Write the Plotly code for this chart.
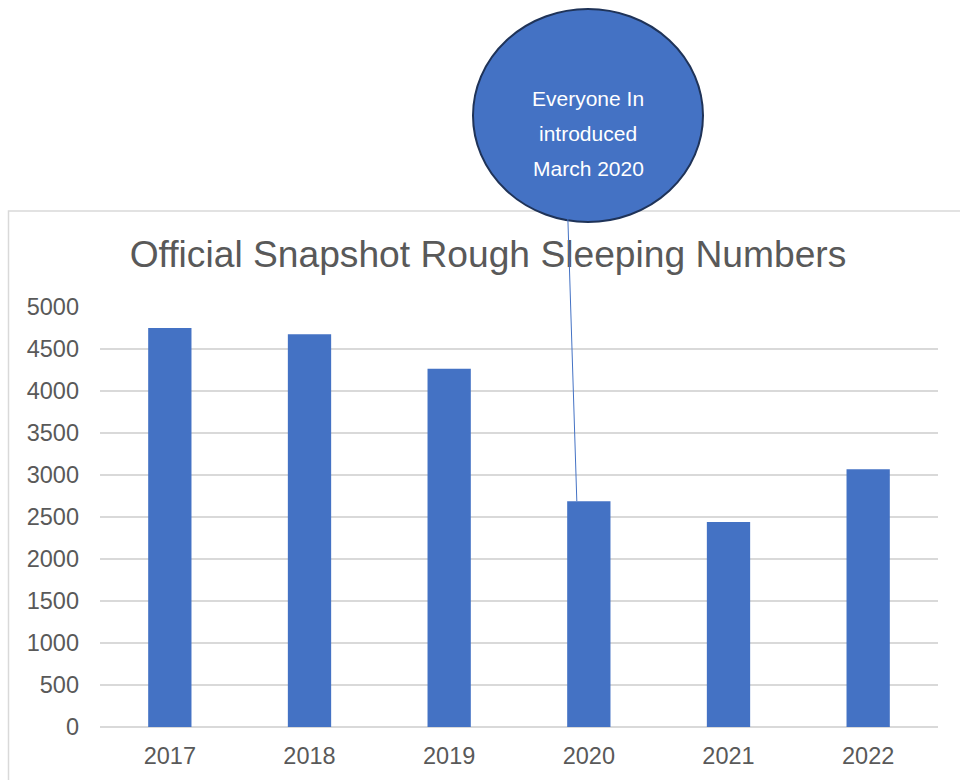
import plotly.graph_objects as go

years = ["2017", "2018", "2019", "2020", "2021", "2022"]
counts = [4751, 4677, 4266, 2688, 2440, 3069]
y_ticks = [0, 500, 1000, 1500, 2000, 2500, 3000, 3500, 4000, 4500, 5000]
title_text = "Official Snapshot Rough Sleeping Numbers"
callout_lines = ["Everyone In", "introduced", "March 2020"]

W, H = 960, 780
FONT = "Liberation Sans, Arial, sans-serif"
GREY = "#595959"
BLUE = "#4472C4"

def px_x(p):
    return p / W

def px_y(p):
    return 1 - p / H

fig = go.Figure()
fig.add_trace(go.Bar(x=years, y=counts, marker=dict(color=BLUE, line=dict(width=0)),
                     hoverinfo="x+y"))

fig.update_layout(
    width=W, height=H,
    margin=dict(l=0, r=0, t=0, b=0, pad=0),
    paper_bgcolor="white", plot_bgcolor="white",
    showlegend=False,
    bargap=0.69,
    font=dict(family=FONT, color=GREY),
    title=dict(text=title_text, x=px_x(488), xanchor="center", y=px_y(254), yanchor="middle",
               font=dict(family=FONT, size=37.2, color=GREY), automargin=False),
    xaxis=dict(domain=[px_x(100), px_x(938)], type="category", showgrid=False,
               showline=False, ticks="", tickfont=dict(size=23.5, color=GREY),
               ticklabelstandoff=12, automargin=False),
    yaxis=dict(domain=[px_y(727), px_y(307)], range=[0, 5000], tickvals=y_ticks,
               showgrid=True, gridcolor="#D9D9D9", gridwidth=1.5, zeroline=True,
               zerolinecolor="#D9D9D9", zerolinewidth=1.5, showline=False, ticks="",
               tickfont=dict(size=23.5, color=GREY), ticklabelstandoff=20, automargin=False),
)

# chart area border
fig.add_shape(type="rect", xref="paper", yref="paper",
              x0=px_x(8.5), x1=1.02, y0=-0.02, y1=px_y(211),
              line=dict(color="#D9D9D9", width=1.5), fillcolor="rgba(0,0,0,0)", layer="below")

# callout circle
fig.add_shape(type="circle", xref="paper", yref="paper",
              x0=px_x(473), x1=px_x(703), y0=px_y(222), y1=px_y(9),
              line=dict(color="#1F3358", width=2), fillcolor=BLUE, layer="above")

for txt, yp in zip(callout_lines, [98, 133, 168]):
    fig.add_annotation(xref="paper", yref="paper", x=px_x(588), y=px_y(yp),
                       text=txt, showarrow=False, xanchor="center", yanchor="middle",
                       font=dict(family=FONT, size=21, color="white"))

# callout leader line to 2020 bar
fig.add_annotation(x=2.914, y=counts[3], xref="x", yref="y", text="",
                   showarrow=True, arrowhead=0, arrowwidth=1, arrowcolor=BLUE,
                   ax=-9, ay=-284, axref="pixel", ayref="pixel", standoff=0, startstandoff=0)

fig.write_html("out.html")
